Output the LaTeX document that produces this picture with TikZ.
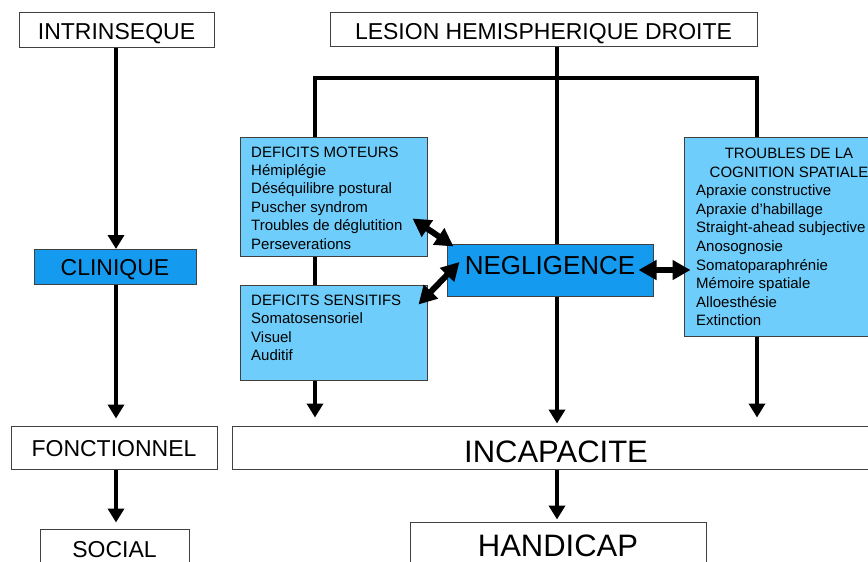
\documentclass[tikz,border=0pt]{standalone}
\usepackage{fontspec}
\setmainfont{Liberation Sans}
\usetikzlibrary{arrows.meta,calc}
\definecolor{lightb}{RGB}{110,205,250}
\definecolor{darkb}{RGB}{20,155,240}
\begin{document}
\begin{tikzpicture}[x=1pt,y=-1pt,
 box/.style={draw=black!75,line width=1pt,fill=white,inner sep=0pt,text depth=0pt,font=\fontsize{23}{26}\selectfont},
 lbox/.style={draw=black!75,line width=1pt,fill=lightb,inner sep=0pt},
 dbox/.style={draw=black!75,line width=1pt,fill=darkb,inner sep=0pt,text depth=0pt,font=\fontsize{23}{26}\selectfont},
 conn/.style={line width=4.5pt},
 arr/.style={conn,-{Triangle[width=16pt,length=14pt]}},
 darr/.style={line width=6pt,{Triangle[width=19pt,length=18pt]}-{Triangle[width=19pt,length=18pt]}},
 small/.style={anchor=base west,inner sep=0pt,font=\fontsize{15}{18}\selectfont},
 smallc/.style={anchor=base,inner sep=0pt,font=\fontsize{15}{18}\selectfont},
]
\clip (0,0) rectangle (868,562);
\fill[white] (0,0) rectangle (868,562);

% boxes
\node[box,text height=19.5pt,minimum width=195,minimum height=35] (intr) at (116.5,30) {INTRINSEQUE};
\node[box,text height=19.5pt,minimum width=427,minimum height=34] (les) at (543.5,29.5) {LESION HEMISPHERIQUE DROITE};
\node[dbox,text height=16.5pt,minimum width=162,minimum height=35] (clin) at (115,267) {CLINIQUE};
\node[box,text height=17.5pt,minimum width=206,minimum height=43] (fonc) at (114,447.5) {FONCTIONNEL};
\node[box,text height=16.5pt,minimum width=149,minimum height=40] (soc) at (114.5,549) {SOCIAL};
\node[box,font=\fontsize{31}{34}\selectfont,text height=29pt,minimum width=648,minimum height=43] (inc) at (556,447.5) {INCAPACITE};
\node[box,font=\fontsize{31}{34}\selectfont,text height=22.2pt,minimum width=296,minimum height=46] (hand) at (558,545) {HANDICAP};
\node[lbox,minimum width=187,minimum height=119] (dm) at (333.5,196.5) {};
\node[lbox,minimum width=187,minimum height=95] (ds) at (333.5,332.5) {};
\node[dbox,font=\fontsize{26}{30}\selectfont,text height=18.6pt,text depth=10pt,minimum width=206,minimum height=52] (neg) at (550,270) {NEGLIGENCE};
\node[lbox,minimum width=216,minimum height=199] (tr) at (792,236.5) {};

% box texts
\foreach \t [count=\i from 0] in {DEFICITS MOTEURS,Hémiplégie,Déséquilibre postural,Puscher syndrom,Troubles de déglutition,Perseverations}
  \node[small] (dmt\i) at (251,{157+18.4*\i}) {\t};
\foreach \t [count=\i from 0] in {DEFICITS SENSITIFS,Somatosensoriel,Visuel,Auditif}
  \node[small] (dst\i) at (251,{305.5+18.4*\i}) {\t};
\node[smallc] (trh0) at (789,158.5) {TROUBLES DE LA};
\node[smallc] (trh1) at (789,177.1) {COGNITION SPATIALE};
\foreach \t [count=\i from 2] in {Apraxie constructive,Apraxie d'habillage,Straight-ahead subjective,Anosognosie,Somatoparaphrénie,Mémoire spatiale,Alloesthésie,Extinction}
  \node[small] (trt\i) at (696,{158.5+18.6*\i}) {\t};

% connectors
\coordinate (lx) at (116,0);
\coordinate (cl) at (315,78);
\coordinate (cm) at (557,78);
\coordinate (cr) at (757,78);
\draw[arr] (intr.south -| lx) -- (clin.north -| lx);
\draw[arr,shorten >=7pt] (clin.south -| lx) -- (fonc.north -| lx);
\draw[arr,shorten >=6pt] (fonc.south -| lx) -- (soc.north -| lx);
\draw[conn] (les.south -| cm) -- (neg.north -| cm);
\draw[conn,line join=miter] (dm.north -| cl) -- (cl) -- (cr) -- (tr.north -| cr);
\draw[conn] (dm.south -| cl) -- (ds.north -| cl);
\draw[arr,shorten >=8pt] (ds.south -| cl) -- (inc.north -| cl);
\draw[arr,shorten >=2pt] (neg.south -| cm) -- (inc.north -| cm);
\draw[arr,shorten >=8pt] (tr.south -| cr) -- (inc.north -| cr);
\draw[arr,shorten >=2pt] (inc.south -| cm) -- (hand.north -| cm);

% double arrows
\draw[darr] ($(dm.east)+(-15,22)$) -- ($(neg.north west)+(7,3)$);
\draw[darr] ($(ds.north east)+(-9,20)$) -- ($(neg.west)+(13,-8)$);
\draw[darr] ($(neg.east)+(-15,0)$) -- ($(tr.west |- neg.east)+(7,0)$);
\end{tikzpicture}
\end{document}
